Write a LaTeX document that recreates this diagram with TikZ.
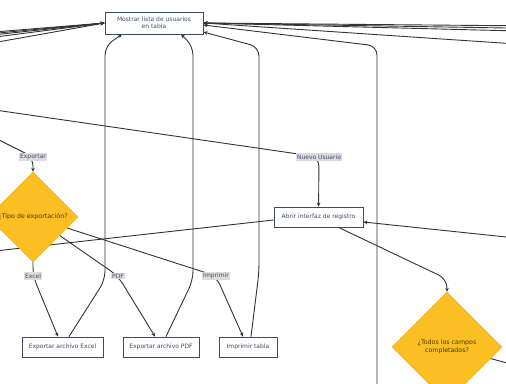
\documentclass[tikz,border=0pt]{standalone}
\usepackage{fontspec}
\setmainfont{DejaVu Sans}
\usetikzlibrary{shapes.geometric,arrows.meta,backgrounds}
\definecolor{boxline}{HTML}{3F4A5C}
\definecolor{boxtext}{HTML}{3D4B6B}
\definecolor{flowline}{HTML}{333333}
\definecolor{amber}{HTML}{FBBF24}
\definecolor{amberline}{HTML}{F2A60C}
\definecolor{decisiontext}{HTML}{4A3A05}
\definecolor{lblbg}{HTML}{DCDCDC}

\begin{document}
\begin{tikzpicture}[
    x=1pt, y=-1pt,
    font=\fontsize{6}{7.2}\selectfont,
    box/.style={
      draw=boxline,
      fill=white,
      text=boxtext,
      line width=0.8pt,
      minimum height=20pt,
      inner sep=2pt,
      align=center
    },
    decision/.style={
      diamond,
      draw=amberline,
      fill=amber,
      text=decisiontext,
      font=\fontsize{6.3}{7.8}\selectfont,
      inner sep=0pt,
      align=center
    },
    lbl/.style={
      fill=lblbg,
      text=boxtext,
      inner sep=1.3pt
    },
    flow/.style={
      draw=flowline,
      line width=0.9pt,
      rounded corners=9pt
    },
    tip/.style={-{Stealth[length=4pt,width=3.6pt]}}
  ]
    \useasboundingbox (0,0) rectangle (506,383);
    \clip (0,0) rectangle (506,383);

    \node[box, minimum width=98pt, minimum height=22pt] (mostrar) at (154,23) {Mostrar lista de usuarios\\en tabla};
    \node[box, minimum width=89pt] (abrir) at (318.5,217) {Abrir interfaz de registro};
    \node[box, minimum width=81pt] (excel) at (62.5,347) {Exportar archivo Excel};
    \node[box, minimum width=76pt] (pdf) at (161,347) {Exportar archivo PDF};
    \node[box, minimum width=58pt] (imprimir) at (248,347) {Imprimir tabla};
    \node[decision, minimum width=90pt, minimum height=90pt] (tipo) at (33,217) {¿Tipo de exportación?};
    \node[decision, minimum width=110pt, minimum height=110pt] (todos) at (447,347) {¿Todos los campos\\completados?};

    \node[lbl] (exportar) at (33,157) {Exportar};
    \node[lbl] (nuevo) at (319,157) {Nuevo Usuario};
    \node[lbl] (excelLbl) at (33,276) {Excel};
    \node[lbl] (pdfLbl) at (118,276) {PDF};
    \node[lbl] (imprimirLbl) at (216,276) {Imprimir};

    % ends of connectors that leave the picture
    \coordinate (nuevoIn) at (-5,110);
    \coordinate (exportarIn) at (-5,138);
    \coordinate (abrirOut) at (-5,251);
    \coordinate (abrirIn) at (511,237.5);
    \coordinate (todosOut) at (511,364);
    \coordinate (colIn) at (377,395);
    \foreach \y [count=\i] in {31.5,32.8,34.2,36.4,41.6}
      \coordinate (left\i) at (0,\y);
    \foreach \y [count=\i] in {25.7,28,30.7,43.3}
      \coordinate (right\i) at (506,\y);

    \begin{scope}[on background layer]
      \fill[white] (0,0) rectangle (506,383);
      \clip (0,0) rectangle (506,383);

      \foreach \i in {1,...,5}
        \draw[flow, tip] (left\i) -- (mostrar.west);
      \foreach \i in {1,...,4}
        \draw[flow, tip] (right\i) -- (mostrar.east);
      \draw[flow, tip] (colIn) -- (377,46) -- ([yshift=-2pt]mostrar.east);

      \draw[flow, tip] (nuevoIn) -- (nuevo.center) -- (abrir);
      \draw[flow, tip] (exportarIn) -- (exportar.center) -- (tipo);
      \draw[flow, tip] (tipo) -- (excelLbl.center) -- ([xshift=-4.5pt]excel.north);
      \draw[flow, tip] (tipo) -- (pdfLbl.center) -- ([xshift=-6pt]pdf.north);
      \draw[flow, tip] (tipo) -- (imprimirLbl.center) -- ([xshift=-5pt]imprimir.north);

      \draw[flow, tip] ([xshift=6.5pt]excel.north) -- (105,280) -- (105,46) -- ([xshift=-32pt]mostrar.south);
      \draw[flow, tip] ([xshift=5pt]pdf.north) -- (193,280) -- (193,46) -- ([xshift=27pt]mostrar.south);
      \draw[flow, tip] ([xshift=3pt]imprimir.north) -- (259,272) -- (259,47) -- ([yshift=-9pt]mostrar.east);

      \draw[flow, tip] ([xshift=20pt]abrir.south) -- (447,279) -- (todos);
      \draw[flow, tip] (abrirIn) -- ([yshift=-5pt]abrir.east);
      \draw[flow] ([yshift=-3pt]abrir.west) -- (abrirOut);
      \draw[flow] (todos.center) -- (todosOut);
    \end{scope}
\end{tikzpicture}
\end{document}
